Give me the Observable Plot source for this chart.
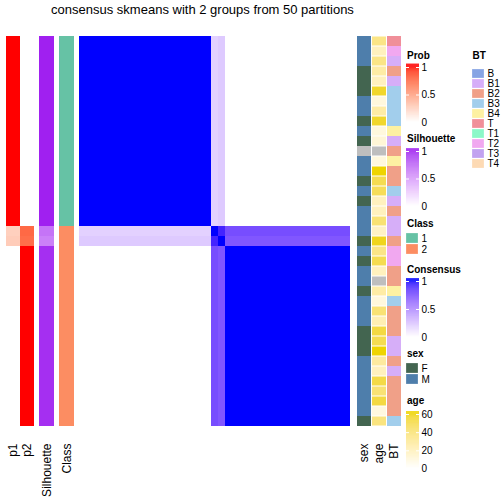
<!DOCTYPE html>
<html><head><meta charset="utf-8">
<script src="https://cdn.jsdelivr.net/npm/d3@7"></script>
<script src="https://cdn.jsdelivr.net/npm/@observablehq/plot@0.6"></script>
<style>
html,body{margin:0;padding:0;background:#fff;}
#chart{position:relative;width:504px;height:504px;overflow:hidden;background:#fff;font-family:"Liberation Sans",Arial,Helvetica,sans-serif;}
#chart svg{position:absolute;}
#chart .lab{position:absolute;white-space:nowrap;color:#000;line-height:10px;font-size:10px;font-weight:bold;}
#chart .ttl{position:absolute;left:0;top:1.5px;width:405px;text-align:center;font-size:13px;line-height:15px;color:#000;white-space:nowrap;}
</style></head><body><div id="chart"></div>
<script>
// ---------------- data ----------------
const title = "consensus skmeans with 2 groups from 50 partitions";
// sample order (rows = columns of the consensus heatmap)
const sampleGroup = ["A","A","A","A","A","A","A","A","A","A","A","A","A","A","A","A","A","A","A",
  "M1","M2",
  "B","B","B","B","B","B","B","B","B","B","B","B","B","B","B","B","B","B"];
const blockGroups = ["A","M1","M2","B"];
const blockConsensus = [
  [1.00, 0.19, 0.22, 0.00],
  [0.19, 1.00, 0.92, 0.76],
  [0.22, 0.92, 1.00, 0.72],
  [0.00, 0.76, 0.72, 1.00]
];
const p1 = [1,1,1,1,1,1,1,1,1,1,1,1,1,1,1,1,1,1,1, 0.25,0.27, 0,0,0,0,0,0,0,0,0,0,0,0,0,0,0,0,0,0];
const p2 = [0,0,0,0,0,0,0,0,0,0,0,0,0,0,0,0,0,0,0, 0.75,0.73, 1,1,1,1,1,1,1,1,1,1,1,1,1,1,1,1,1,1];
const silhouette = [1,1,1,1,1,1,1,1,1,1,1,1,1,1,1,1,1,1,1, 0.68,0.62,
  0.96,0.96,0.96,0.96,0.96,0.96,0.96,0.96,0.96,0.96,0.96,0.96,0.96,0.96,0.96,0.96,0.96,0.96];
const classLabel = ["1","1","1","1","1","1","1","1","1","1","1","1","1","1","1","1","1","1","1",
  "2","2","2","2","2","2","2","2","2","2","2","2","2","2","2","2","2","2","2","2"];
const sex = ["M","M","M","F","F","F","M","M","F","M","F","NA","M","M","F","M","F","M","M","M",
  "F","M","F","M","M","F","M","M","M","F","F","F","M","M","M","M","M","M","F"];
const age = [35,19,35,26,19,56,10,26,56,10,12,null,10,60,49,47,19,19,40,17,
  58,35,49,19,null,26,10,40,22,52,49,60,28,19,51,40,52,9,37];
const bt = ["T","T2","B1","B2","B1","B3","B3","B3","B3","B4","B1","B2","B4","B2","B2","B3","B1","B2","B1","B1",
  "B2","T2","T2","B2","B2","B4","B3","B2","B2","B2","B1","B1","B2","B1","B2","B2","B2","B2","B3"];

const probTicks = [0, 0.5, 1];
const silTicks = [0, 0.5, 1];
const consTicks = [0, 0.5, 1];
const ageTicks = [0, 20, 40, 60];
const classLevels = ["1","2"];
const classColors = ["#66C2A5","#FC8D62"];
const sexLevels = ["F","M"];
const sexColors = ["#436550","#4E7EAB"];
const btLevels = ["B","B1","B2","B3","B4","T","T1","T2","T3","T4"];
const btColors = ["#86A4E4","#D6AEF8","#F0A088","#A2CEEC","#FDF1A2","#F08F99","#8CF8C8","#F1A8F0","#C2A2F0","#FDDAB4"];
const naColor = "#BEBEBE";

// ---------------- helpers ----------------
const root = document.getElementById("chart");
const FONT = '"Liberation Sans",Arial,Helvetica,sans-serif';
function place(el, left, top) {
  el.style.left = left + "px"; el.style.top = top + "px";
  root.appendChild(el); return el;
}
function label(text, left, top) {
  const d = document.createElement("div");
  d.className = "lab"; d.textContent = text;
  return place(d, left, top);
}
const ids = sampleGroup.map((_, i) => "s" + i);
const HM_TOP = 23, HM_H = 416;
const baseStyle = (fs) => ({fontFamily: FONT, fontSize: fs + "px", background: "transparent", overflow: "visible", color: "#000"});

const probScale = {type: "linear", domain: [0, 1], range: ["white", "red"], interpolate: d3.interpolateLab, clamp: true};
const silScale = {type: "linear", domain: [0, 1], range: ["white", "#A020F0"], interpolate: d3.interpolateLab, clamp: true};
const consScale = {type: "linear", domain: [0, 1], range: ["white", "blue"], interpolate: d3.interpolateLab, clamp: true};
const ageScale = {type: "linear", domain: [0, 60], range: ["white", "#EFD400"], interpolate: d3.interpolateLab, clamp: true};

// title
const t = document.createElement("div"); t.className = "ttl"; t.textContent = title; root.appendChild(t);

// ---------------- consensus heatmap ----------------
const consensusCells = [];
ids.forEach((r, i) => ids.forEach((c, j) => consensusCells.push({
  row: r, col: c,
  value: blockConsensus[blockGroups.indexOf(sampleGroup[i])][blockGroups.indexOf(sampleGroup[j])]
})));
place(Plot.plot({
  width: 271, height: HM_H, margin: 0, style: baseStyle(10),
  x: {type: "band", domain: ids, padding: 0, axis: null},
  y: {type: "band", domain: ids, padding: 0, axis: null},
  color: consScale,
  marks: [Plot.cell(consensusCells, {x: "col", y: "row", fill: "value", shapeRendering: "crispEdges"})]
}), 79, HM_TOP);

// ---------------- row annotations (left) ----------------
function annotPlot({cols, width, color, cells, extraMarks = [], cellOpts = {}}) {
  return Plot.plot({
    width, height: HM_H + 70, marginTop: 0, marginLeft: 0, marginRight: 0, marginBottom: 70,
    style: baseStyle(12),
    x: {type: "band", domain: cols, padding: 0, label: null},
    y: {type: "band", domain: ids, padding: 0, axis: null, label: null},
    color,
    marks: [
      Plot.cell(cells, {x: "col", y: "row", fill: "value", shapeRendering: "crispEdges", ...cellOpts}),
      ...extraMarks,
      Plot.axisX({anchor: "bottom", tickRotate: -90, tickSize: 0, tickPadding: 4, label: null})
    ]
  });
}
const probCells = ids.flatMap((id, i) => [{row: id, col: "p1", value: p1[i]}, {row: id, col: "p2", value: p2[i]}]);
place(annotPlot({cols: ["p1","p2"], width: 29, color: probScale, cells: probCells}), 5, HM_TOP);

const silCells = ids.map((id, i) => ({row: id, col: "Silhouette", value: silhouette[i]}));
place(annotPlot({cols: ["Silhouette"], width: 15, color: silScale, cells: silCells}), 39, HM_TOP);

const classCells = ids.map((id, i) => ({row: id, col: "Class", value: classLabel[i]}));
place(annotPlot({cols: ["Class"], width: 15, color: {type: "ordinal", domain: classLevels, range: classColors}, cells: classCells}), 59, HM_TOP);

// ---------------- row annotations (right) ----------------
const sexCells = ids.map((id, i) => ({row: id, col: "sex", value: sex[i]}));
place(annotPlot({cols: ["sex"], width: 14,
  color: {type: "ordinal", domain: [...sexLevels, "NA"], range: [...sexColors, naColor]}, cells: sexCells}), 357, HM_TOP);

const ageCells = ids.map((id, i) => ({row: id, col: "age", value: age[i]}));
place(annotPlot({cols: ["age"], width: 14, color: ageScale,
  cells: ageCells.filter(d => d.value != null),
  cellOpts: {insetBottom: 0.5, insetTop: 0.5, shapeRendering: "auto"},
  extraMarks: [Plot.cell(ageCells.filter(d => d.value == null), {x: "col", y: "row", fill: naColor, insetBottom: 0.5, insetTop: 0.5})]
}), 372, HM_TOP);

const btCells = ids.map((id, i) => ({row: id, col: "BT", value: bt[i]}));
place(annotPlot({cols: ["BT"], width: 14, color: {type: "ordinal", domain: btLevels, range: btColors}, cells: btCells}), 387, HM_TOP);

// ---------------- legends ----------------
function colorbar({left, yMax, yZero, maxVal, topVal, ticks, scale, fmt}) {
  const mt = 4, mb = 4;
  const step = topVal / 240;
  const stripes = d3.range(0, topVal, step);
  const p = Plot.plot({
    width: 13 + 26, height: (yZero - yMax) + mt + mb,
    marginTop: mt, marginBottom: mb, marginLeft: 0, marginRight: 26,
    style: baseStyle(10),
    y: {domain: [0, maxVal], label: null},
    color: scale,
    marks: [
      Plot.rect(stripes, {y1: d => d, y2: d => Math.min(d + step * 1.6, topVal), fill: d => d}),
      Plot.tickY(ticks, {y: d => d, stroke: "white", strokeWidth: 1, insetRight: 10}),
      Plot.tickY(ticks, {y: d => d, stroke: "white", strokeWidth: 1, insetLeft: 10}),
      Plot.axisY(ticks, {anchor: "right", tickSize: 0, tickPadding: 2, label: null, tickFormat: fmt})
    ]
  });
  return place(p, left, yMax - mt);
}
function swatches({left, top, levels, colors, step}) {
  const p = Plot.plot({
    width: 12 + 22, height: levels.length * step,
    marginTop: 0, marginBottom: 0, marginLeft: 0, marginRight: 22,
    style: baseStyle(10),
    y: {type: "band", domain: levels, paddingInner: 0.08, paddingOuter: 0.02, label: null},
    color: {type: "ordinal", domain: levels, range: colors},
    marks: [
      Plot.cell(levels, {y: d => d, fill: d => d, stroke: "#ffffff", strokeOpacity: 0.5, strokeWidth: 0.5}),
      Plot.axisY({anchor: "right", tickSize: 0, tickPadding: 3, label: null})
    ]
  });
  return place(p, left, top);
}
const f1 = d => d === 0.5 ? "0.5" : String(d);

label("Prob", 407, 50.7);
colorbar({left: 406, yMax: 66.5, yZero: 121.5, maxVal: 1, topVal: 1.06, ticks: probTicks, scale: probScale, fmt: f1});

label("Silhouette", 407, 134.4);
colorbar({left: 406, yMax: 150.5, yZero: 205.5, maxVal: 1, topVal: 1.05, ticks: silTicks, scale: silScale, fmt: f1});

label("Class", 407, 218.7);
swatches({left: 406, top: 232.5, levels: classLevels, colors: classColors, step: 11});

label("Consensus", 407, 264.7);
colorbar({left: 406, yMax: 281, yZero: 337, maxVal: 1, topVal: 1.05, ticks: consTicks, scale: consScale, fmt: f1});

label("sex", 407, 349.2);
swatches({left: 406, top: 362.5, levels: sexLevels, colors: sexColors, step: 11});

label("age", 407, 396.2);
colorbar({left: 406, yMax: 413.5, yZero: 468, maxVal: 60, topVal: 63.3, ticks: ageTicks, scale: ageScale, fmt: d => String(d)});

label("BT", 472.5, 50.7);
swatches({left: 472, top: 64.5, levels: btLevels, colors: btColors, step: 10.8});
</script>
</body></html>
